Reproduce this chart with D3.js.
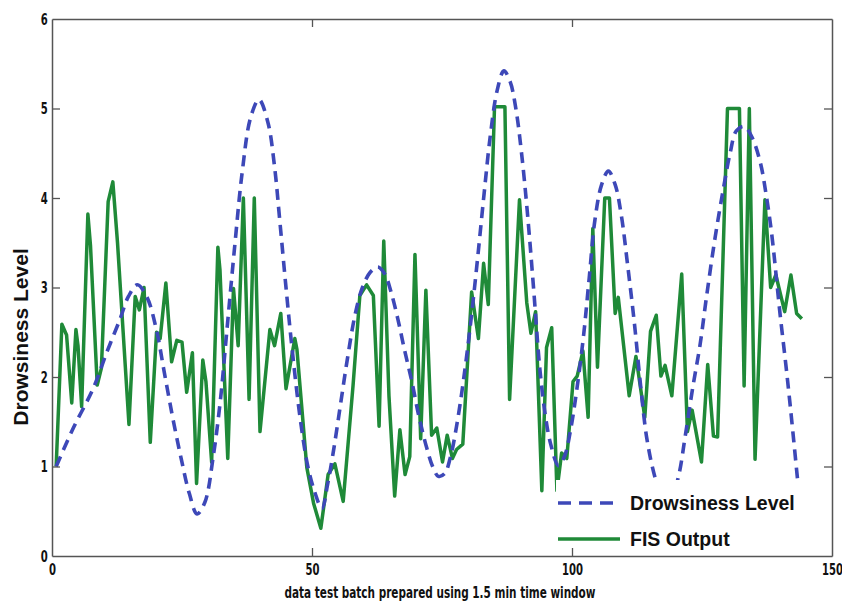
<!DOCTYPE html>
<html>
<head>
<meta charset="utf-8">
<script src="https://cdn.jsdelivr.net/npm/d3@7"></script>
<style>
  body { margin: 0; background: #fff; }
  svg { display: block; }
  .tick text { font-family: "Liberation Sans Narrow", "DejaVu Sans Condensed", sans-serif; font-weight: bold; font-size: 16px; fill: #111; }
</style>
</head>
<body>
<svg id="chart" width="842" height="604"></svg>
<script>
// Axis ticks
const xTicks = [0, 50, 100, 150];
const yTicks = [0, 1, 2, 3, 4, 5, 6];

// Drowsiness level (reference curve), sampled along the smooth trace
const levelX = [0.8, 4.1, 7.9, 10.5, 13.1, 14.7, 16.4, 18.2, 20, 21.6, 23.2, 24.8, 26.4, 27.9, 29.4, 31, 32.4, 33.6, 35.2, 36.6, 38.2, 39.8, 41.5, 42.8, 43.8, 45, 46.2, 47.7, 49.2, 50.5, 51.9, 53, 54.2, 55.5, 56.8, 58.3, 59.7, 61.2, 62.7, 64, 65.2, 66.5, 67.8, 69.2, 70.6, 72.1, 73.2, 74.3, 75.5, 76.6, 77.8, 79.1, 80.5, 81.8, 83.1, 84.3, 85.6, 86.9, 88.1, 89.2, 90.3, 91.4, 92.6, 93.8, 94.8, 95.9, 97.4, 98.6, 99.7, 100.9, 102.2, 103.3, 104.4, 105.7, 107, 108.3, 109.5, 110.7, 112, 113.2, 114.4, 116, 118.2, 120.4, 121.8, 123.3, 124.6, 125.9, 127.5, 129.1, 130.4, 131.6, 133.1, 134.6, 136.2, 137.3, 138.4, 140, 141.1, 142, 143.4];
const levelY = [1.0, 1.43, 1.87, 2.27, 2.65, 2.9, 3.03, 2.9, 2.55, 2.05, 1.55, 1.1, 0.7, 0.47, 0.6, 1.11, 1.75, 2.5, 3.5, 4.3, 4.9, 5.1, 4.85, 4.35, 3.75, 3.0, 2.3, 1.55, 1.0, 0.72, 0.53, 0.8, 1.2, 1.7, 2.2, 2.7, 3.0, 3.17, 3.23, 3.15, 2.95, 2.65, 2.3, 1.95, 1.55, 1.2, 1.0, 0.89, 0.92, 1.1, 1.45, 1.95, 2.6, 3.3, 4.05, 4.7, 5.2, 5.42, 5.3, 5.0, 4.5, 3.85, 3.0, 2.1, 1.6, 1.25, 1.01, 1.12, 1.4, 1.85, 2.45, 3.1, 3.75, 4.15, 4.3, 4.15, 3.8, 3.25, 2.6, 1.9, 1.31, 0.87, 0.5, 0.87, 1.35, 1.91, 2.35, 2.91, 3.55, 4.1, 4.5, 4.75, 4.8, 4.68, 4.4, 4.05, 3.6, 2.71, 2.15, 1.66, 0.84];

// FIS output (polyline vertices)
const fisX = [0.8, 1.9, 2.8, 3.8, 4.6, 5.0, 5.7, 6.9, 7.4, 8.7, 9.5, 10.8, 11.7, 12.6, 14.8, 16, 16.8, 17.7, 18.9, 20.1, 20.8, 21.9, 23, 24, 25, 25.9, 27, 27.8, 29, 29.6, 30.7, 31.9, 32.3, 33.8, 34.9, 35.3, 35.8, 36.8, 37.9, 38.9, 40, 41.9, 42.8, 44, 45, 46.7, 47.1, 49, 50.3, 51.7, 53.1, 54.4, 56, 57.9, 59.2, 60.5, 61.8, 62.9, 63.8, 64.8, 65.9, 66.9, 67.9, 68.8, 69.8, 70.9, 71.9, 73, 74, 75.1, 76, 77, 77.8, 79, 80.7, 82, 83, 83.9, 85.1, 87.1, 88, 89.9, 91.3, 92.1, 93, 94.2, 95.1, 96.1, 97.1, 98, 99, 100.2, 101, 102.1, 103.1, 104, 104.9, 106.3, 107.2, 108.3, 108.9, 111, 112.3, 114, 115.1, 116.2, 117.1, 117.9, 119.2, 121.1, 122.2, 123.1, 124.9, 126.1, 127.2, 128, 129.9, 132.2, 133.1, 134.1, 135.2, 137.1, 138.2, 139.2, 140.9, 142.1, 143.2, 144.2];
const fisY = [1.0, 2.59, 2.47, 1.71, 2.53, 2.35, 1.67, 3.82, 3.47, 1.91, 2.1, 3.96, 4.18, 3.5, 1.47, 2.9, 2.75, 3.0, 1.27, 2.5, 2.43, 3.05, 2.17, 2.41, 2.39, 1.83, 2.27, 0.81, 2.19, 1.95, 1.05, 3.45, 3.2, 1.09, 2.99, 2.71, 2.35, 4.0, 1.75, 4.0, 1.39, 2.53, 2.35, 2.71, 1.87, 2.43, 2.31, 0.99, 0.59, 0.31, 0.91, 1.03, 0.61, 1.91, 2.91, 3.03, 2.91, 1.45, 3.52, 1.79, 0.67, 1.41, 0.91, 1.11, 3.37, 1.31, 2.97, 1.35, 1.43, 1.05, 1.35, 1.09, 1.19, 1.25, 2.95, 2.43, 3.27, 2.81, 5.02, 5.02, 1.75, 3.98, 2.83, 2.49, 2.73, 0.73, 2.33, 2.55, 0.73, 1.15, 1.09, 1.95, 2.01, 2.29, 1.55, 3.66, 2.11, 4.0, 4.0, 2.71, 2.89, 1.79, 2.23, 1.55, 2.51, 2.69, 2.01, 2.13, 1.79, 3.15, 1.39, 1.63, 1.05, 2.14, 1.34, 1.33, 5.0, 5.0, 1.9, 5.0, 1.08, 3.98, 3.0, 3.14, 2.73, 3.14, 2.71, 2.65];

const seriesNames = ["Drowsiness Level", "FIS Output"];
const seriesColors = ["#3d48b8", "#1f8a38"];

const svg = d3.select("#chart");
const W = 842, H = 604;
const plot = { left: 52, right: 832, top: 19, bottom: 556 };

const x = d3.scaleLinear().domain([0, 150]).range([plot.left, plot.right]);
const y = d3.scaleLinear().domain([0, 6]).range([plot.bottom, plot.top]);

svg.append("rect").attr("width", W).attr("height", H).attr("fill", "#fff");

// Data lines
const levelData = levelX.map((v, i) => [v, levelY[i]]);
const fisData = fisX.map((v, i) => [v, fisY[i]]);

const line = d3.line().x(d => x(d[0])).y(d => y(d[1]));

svg.append("path")
  .datum(fisData)
  .attr("d", line)
  .attr("fill", "none")
  .attr("stroke", seriesColors[1])
  .attr("stroke-width", 3.5)
  .attr("stroke-linejoin", "round");

svg.append("path")
  .datum(levelData)
  .attr("d", line.curve(d3.curveCatmullRom.alpha(0.5)))
  .attr("fill", "none")
  .attr("stroke", seriesColors[0])
  .attr("stroke-width", 3.6)
  .attr("stroke-dasharray", "11,7");

// Legend (white box over the lines)
const legend = svg.append("g");
legend.append("rect")
  .attr("x", 556).attr("y", 480).attr("width", 272).attr("height", 73)
  .attr("fill", "#fff");
const legendRows = [
  { name: seriesNames[0], color: seriesColors[0], dash: "13,8", y: 503 },
  { name: seriesNames[1], color: seriesColors[1], dash: null, y: 539 }
];
legendRows.forEach(r => {
  legend.append("line")
    .attr("x1", 558).attr("x2", 620).attr("y1", r.y).attr("y2", r.y)
    .attr("stroke", r.color).attr("stroke-width", 3.6)
    .attr("stroke-dasharray", r.dash);
  legend.append("text")
    .attr("x", 630).attr("y", r.y)
    .attr("dy", "0.36em")
    .attr("font-family", "Liberation Sans, Arial, sans-serif")
    .attr("font-weight", "bold")
    .attr("font-size", 19.5)
    .attr("fill", "#111")
    .text(r.name);
});

// Axes: box with inward ticks on all four sides
const axisColor = "#555";
const tickLen = 8;
const narrow = 0.7; // horizontal squeeze for the tall, narrow tick digits

const gx = svg.append("g").attr("transform", `translate(0,${plot.bottom})`)
  .call(d3.axisBottom(x).tickValues(xTicks).tickSizeInner(-tickLen).tickSizeOuter(0).tickPadding(8).tickFormat(d3.format("d")));
const gxTop = svg.append("g").attr("transform", `translate(0,${plot.top})`)
  .call(d3.axisTop(x).tickValues(xTicks).tickSizeInner(-tickLen).tickSizeOuter(0).tickFormat(""));
const gy = svg.append("g").attr("transform", `translate(${plot.left},0)`)
  .call(d3.axisLeft(y).tickValues(yTicks).tickSizeInner(-tickLen).tickSizeOuter(0).tickPadding(6).tickFormat(d3.format("d")));
const gyRight = svg.append("g").attr("transform", `translate(${plot.right},0)`)
  .call(d3.axisRight(y).tickValues(yTicks).tickSizeInner(-tickLen).tickSizeOuter(0).tickFormat(""));

gx.selectAll(".tick text").attr("transform", `scale(${narrow},1)`);
gy.selectAll(".tick text").attr("transform", `scale(${narrow},1)`);

[gx, gxTop, gy, gyRight].forEach(g => {
  g.selectAll(".domain").attr("stroke", axisColor).attr("stroke-width", 1.5);
  g.selectAll(".tick line").attr("stroke", axisColor).attr("stroke-width", 1.3);
});
// Ticks at the box corners would sit on the frame
gx.selectAll(".tick line").filter(d => d === 0 || d === 150).remove();
gxTop.selectAll(".tick line").filter(d => d === 0 || d === 150).remove();
gy.selectAll(".tick line").filter(d => d === 0 || d === 6).remove();
gyRight.selectAll(".tick line").filter(d => d === 0 || d === 6).remove();

// Axis titles
svg.append("text")
  .attr("x", 440).attr("y", 598)
  .attr("text-anchor", "middle")
  .attr("font-family", "Liberation Sans Narrow, DejaVu Sans Condensed, sans-serif")
  .attr("font-weight", "bold")
  .attr("font-size", 15)
  .attr("textLength", 311)
  .attr("lengthAdjust", "spacingAndGlyphs")
  .attr("fill", "#111")
  .text("data test batch prepared using 1.5 min time window");

svg.append("text")
  .attr("transform", "translate(28,337) rotate(-90)")
  .attr("text-anchor", "middle")
  .attr("font-family", "Liberation Sans, Arial, sans-serif")
  .attr("font-weight", "bold")
  .attr("font-size", 21)
  .attr("fill", "#111")
  .text("Drowsiness Level");
</script>
</body>
</html>
